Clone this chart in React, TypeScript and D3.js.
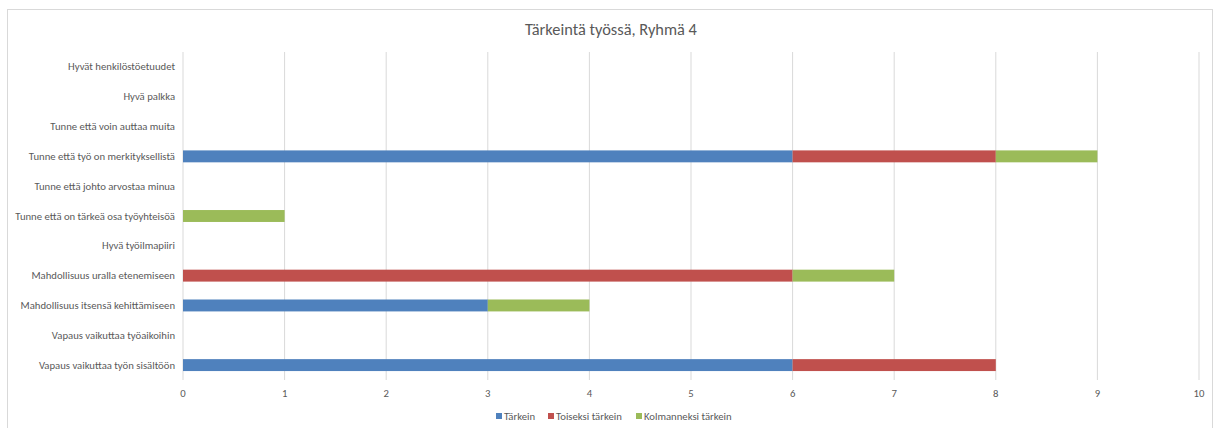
import React from "react";
import * as d3 from "d3";

const categories = [
  "Hyvät henkilöstöetuudet",
  "Hyvä palkka",
  "Tunne että voin auttaa muita",
  "Tunne että työ on merkityksellistä",
  "Tunne että johto arvostaa minua",
  "Tunne että on tärkeä osa työyhteisöä",
  "Hyvä työilmapiiri",
  "Mahdollisuus uralla etenemiseen",
  "Mahdollisuus itsensä kehittämiseen",
  "Vapaus vaikuttaa työaikoihin",
  "Vapaus vaikuttaa työn sisältöön",
];
const tarkein = [0, 0, 0, 6, 0, 0, 0, 0, 3, 0, 6];
const toiseksi = [0, 0, 0, 2, 0, 0, 0, 6, 0, 0, 2];
const kolmanneksi = [0, 0, 0, 1, 0, 1, 0, 1, 1, 0, 0];
const seriesNames = ["Tärkein", "Toiseksi tärkein", "Kolmanneksi tärkein"];
const seriesColors = ["#4F81BD", "#C0504D", "#9BBB59"];
const xTicks = [0, 1, 2, 3, 4, 5, 6, 7, 8, 9, 10];
const title = "Tärkeintä työssä, Ryhmä 4";

const W = 1218;
const H = 428;
const FONT = "Calibri, Carlito, 'Open Sans', 'Liberation Sans', sans-serif";

export default function App() {
  const x = d3.scaleLinear().domain([0, 10]).range([183, 1199]);
  const y = d3.scaleBand().domain(categories).range([52, 380]).paddingInner(0.6).paddingOuter(0.3);
  const band = d3.scaleBand().domain(categories).range([52, 380]);

  const rows = categories.map((c, i) => ({ cat: c, s0: tarkein[i], s1: toiseksi[i], s2: kolmanneksi[i] }));
  const stacked = d3.stack<any>().keys(["s0", "s1", "s2"])(rows);

  const legendItems = [
    { x: 496, name: seriesNames[0], color: seriesColors[0] },
    { x: 548, name: seriesNames[1], color: seriesColors[1] },
    { x: 636, name: seriesNames[2], color: seriesColors[2] },
  ];

  return (
    <svg width={W} height={H} style={{ position: "absolute", left: 0, top: 0, fontFamily: FONT }}>
      <rect x={0} y={0} width={W} height={H} fill="#fff" />
      <rect x={7.5} y={9.5} width={1205} height={430} fill="#fff" stroke="#d9d9d9" />
      <text x={611} y={35} textAnchor="middle" fontSize={16.4} fill="#595959">{title}</text>
      {xTicks.map((t) => (
        <line key={t} x1={x(t)} x2={x(t)} y1={52} y2={380} stroke="#d9d9d9" strokeWidth={1} />
      ))}
      {xTicks.map((t) => (
        <text key={"l" + t} x={x(t)} y={397} textAnchor="middle" fontSize={10.7} fill="#595959">{t}</text>
      ))}
      {categories.map((c) => (
        <text key={c} x={175} y={(band(c) as number) + band.bandwidth() / 2 + 3.5} textAnchor="end" fontSize={10.7} fill="#595959">{c}</text>
      ))}
      {stacked.map((s, si) => (
        <g key={si} fill={seriesColors[si]}>
          {s.map((d: any, i: number) =>
            d[1] - d[0] > 0 ? (
              <rect key={i} x={x(d[0])} y={y(categories[i]) as number} width={x(d[1]) - x(d[0])} height={y.bandwidth()} />
            ) : null
          )}
        </g>
      ))}
      {legendItems.map((l) => (
        <g key={l.name}>
          <rect x={l.x} y={413} width={6} height={6} fill={l.color} />
          <text x={l.x + 8} y={420} fontSize={10.7} fill="#595959">{l.name}</text>
        </g>
      ))}
    </svg>
  );
}
